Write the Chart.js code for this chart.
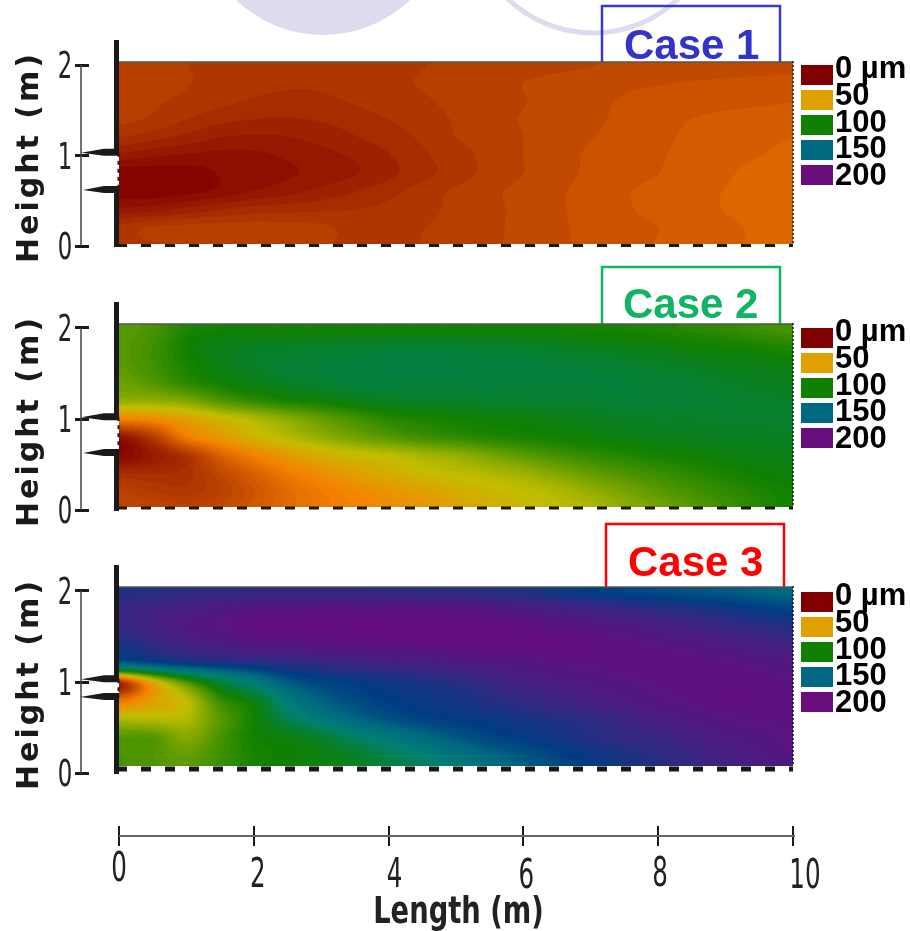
<!DOCTYPE html>
<html>
<head>
<meta charset="utf-8">
<script src="https://cdn.jsdelivr.net/npm/chart.js@4"></script>
<style>
  html, body { margin: 0; background: #fff; }
  #page { position: relative; width: 910px; height: 931px; overflow: hidden; }
  canvas { position: absolute; left: 0; }
</style>
</head>
<body>
<div id="page"></div>
<script>
// grid nodes the thickness was read at
const lengthNodes = [0, 0.5, 1, 1.5, 2, 2.5, 3, 3.5, 4, 4.5, 5, 5.5, 6, 6.5, 7, 7.5, 8, 8.5, 9, 9.5, 10];
const heightNodes = [2, 1.8, 1.6, 1.4, 1.2, 1, 0.8, 0.6, 0.4, 0.2, 0];

const lengthTicks = [0, 2, 4, 6, 8, 10];
const heightTicks = [0, 1, 2];

const legendLabels = ['0 µm', '50', '100', '150', '200'];
const legendColors = ['#800000', '#e0a000', '#108000', '#006880', '#6a0d7d'];

// thickness in um, rows from the top of the duct down
const case1Rows = [
  [20.5,19.5,18.1,17,16.5,16.3,16.3,16.8,17.3,17.9,18.6,19.2,19.8,20.4,20.9,21.5,22,22.5,22.9,23.2,23.4],
  [20,19.5,18.2,17,16,15.5,15.5,16.5,17.4,18.2,19,20,21,21.8,22.6,23.3,23.8,24.2,24.5,24.7,24.8],
  [19.5,18.5,17.2,15.8,14.6,14,14.3,15.3,16.7,17.6,18.8,20.2,20.9,22,23.2,24.3,25.2,25.7,26.1,26.5,26.9],
  [18.8,17.4,15,13,12,11.8,12.3,13.5,15,16.7,18.3,20,21.2,22.5,23.5,24.6,26,27,27.7,28.1,28.5],
  [15,13,11,9,8.5,8.8,10,11.8,13.5,15.5,18,19.4,21,22.9,23.9,25,26.4,27.5,28.4,29.2,29.9],
  [8,6.5,5.5,5,5.3,6.5,8,9.5,11.8,14.5,16.7,19,21,23,24.4,25.6,26.7,27.9,29,29.9,30.8],
  [1,1,1.5,3.2,4.5,5.5,7.2,8.8,11.2,14,16.5,19,21,23,24.5,25.8,27,28.3,29.6,31,31.6],
  [1,1,2.2,4,6.3,8,10,12,14,16.5,18.5,20.3,22,23.6,25,26.7,27.9,29.1,30.1,31,31.6],
  [7,8,10,12,13.5,14,14.5,15,15.8,17,18.8,20.2,21.9,23.6,25,26.6,27.8,29,30.1,31,31.6],
  [16,18.5,19,19.5,19.5,19.2,18.6,17,16.5,17.9,19.1,20.4,21.8,23.5,24.8,26,27,28.2,29.4,30.5,31.5],
  [16.5,17.5,18.8,19.2,19.4,19.2,18.4,17,17,18.1,19.5,20.5,21.9,23.4,24.7,25.9,27.2,28.3,29.4,30.5,31.3]
];
const case2Rows = [
  [84,88,97,100,100,100,100,100,100,100,100,100,100,100,99,98,97,95,93,90,88],
  [85,90,100,106,108,109,110,111,112,112,112,111,110,108,106,105,103,101,100,98,96],
  [84,90,98,105,110,113,114,115,116,116,116,115,115,114,113,112,110,108,106,105,103],
  [80,86,94,100,105,109,112,114,115,115,115,115,114,114,114,114,113,112,110,108,107],
  [72,72,76,86,93,98,101,105,108,110,110,111,111,112,112,113,113,113,112,111,110],
  [40,43,50,58,66,74,82,89,95,98,100,102,103,105,107,109,110,110,111,111,111],
  [6,18,38,47,57,65,72,79,85,90,93,96,98,100,102,104,106,107,108,108,109],
  [2,8,16,30,40,48,55,60,63,68,72,78,84,89,93,96,99,101,103,105,106],
  [14,14,15,22,30,38,44,50,55,60,63,66,70,76,82,87,91,95,98,101,103],
  [20,18,17,20,26,33,38,42,46,50,55,59,62,66,72,78,84,89,93,97,100],
  [22,22,21,23,27,33,37,40,43,47,50,55,60,63,66,72,78,84,90,95,99]
];
const case3Rows = [
  [172,174,176,177,178,178,178,178,177,176,176,174,172,168,165,162,160,157,155,151,148],
  [180,183,186,189,192,193,194,194,194,194,193,191,188,185,182,179,176,173,170,166,163],
  [178,184,190,193,196,197,197,198,198,198,198,197,196,194,192,190,187,184,180,177,174],
  [170,176,182,186,190,191,192,193,194,195,196,197,197,197,196,195,193,191,188,185,183],
  [150,158,165,169,172,175,178,181,183,185,187,189,191,193,194,195,196,195,194,192,190],
  [15,55,88,115,135,155,162,166,169,172,175,180,185,188,190,192,194,195,195,195,194],
  [35,50,63,92,105,135,152,160,165,168,170,174,178,182,186,189,192,194,196,196,195],
  [65,64,66,85,100,120,138,150,158,163,166,168,171,174,177,182,187,190,193,194,195],
  [85,85,75,88,100,104,112,126,138,148,156,162,166,170,174,178,181,185,189,191,193],
  [88,86,82,90,98,101,104,110,120,131,142,150,157,163,168,172,176,181,186,189,192],
  [88,87,85,92,100,103,105,108,113,120,130,140,150,158,165,169,173,177,181,184,187]
];

// colour ramp of the contour plots: thickness -> rgb
const rampStops = [0, 40, 50, 62, 100, 115, 130, 150, 165, 178, 200];
const rampColors = [[128,0,0],[245,130,0],[224,160,0],[195,190,0],[16,128,0],[5,128,60],[0,128,115],[0,104,128],[0,60,130],[50,40,130],[105,10,125]];

// hand placement of the axis digits, they sit unevenly in the reference
const lengthLabelNudgeX = [0, 4, 6, 3, 2, 12];
const lengthLabelNudgeY = [-6, 0, 0, 1, -1, 1];

const rampColor = (v) => {
  let i = 0;
  while (i < rampStops.length - 2 && v > rampStops[i + 1]) i++;
  const t = Math.min(1, Math.max(0, (v - rampStops[i]) / (rampStops[i + 1] - rampStops[i])));
  return rampColors[i].map((c, k) => c + (rampColors[i + 1][k] - c) * t);
};

const cubicWeights = (t) => [
  (-t * t * t + 2 * t * t - t) / 2,
  (3 * t * t * t - 5 * t * t + 2) / 2,
  (-3 * t * t * t + 4 * t * t + t) / 2,
  (t * t * t - t * t) / 2
];

// smooth shading between the read values, so the bands do not look polygonal
const sampleRows = (rows, length, height) => {
  const nx = lengthNodes.length - 1;
  const ny = heightNodes.length - 1;
  const cx = Math.min(nx, Math.max(0, length / 0.5));
  const cy = Math.min(ny, Math.max(0, (2 - height) / 0.2));
  const x0 = Math.min(nx - 1, Math.floor(cx));
  const y0 = Math.min(ny - 1, Math.floor(cy));
  const wx = cubicWeights(cx - x0);
  const wy = cubicWeights(cy - y0);
  let sum = 0;
  for (let j = 0; j < 4; j++) {
    const row = rows[Math.min(ny, Math.max(0, y0 + j - 1))];
    for (let i = 0; i < 4; i++) {
      sum += wy[j] * wx[i] * row[Math.min(nx, Math.max(0, x0 + i - 1))];
    }
  }
  return sum;
};

// each grid node is drawn as a small shaded tile, banded like the contour levels
const cellTile = (ctx, panel) => {
  const raw = ctx.raw;
  const {x, y} = ctx.chart.scales;
  const pxLength = x.getPixelForValue(1) - x.getPixelForValue(0);
  const pxHeight = y.getPixelForValue(0) - y.getPixelForValue(1);
  // the first reset pass runs before the scales have a size
  if (!raw || !(pxLength > 0) || !(pxHeight > 0)) return 'rect';
  const w = Math.ceil(pxLength * 0.5) + 2;
  const h = Math.ceil(pxHeight * 0.2) + 2;
  const tile = document.createElement('canvas');
  tile.width = w;
  tile.height = h;
  const g = tile.getContext('2d');
  const image = g.createImageData(w, h);
  for (let py = 0; py < h; py++) {
    for (let px = 0; px < w; px++) {
      const v = sampleRows(panel.rows, raw.x + (px + 0.5 - w / 2) / pxLength, raw.y - (py + 0.5 - h / 2) / pxHeight);
      const level = (Math.floor(v / panel.band) + 0.5) * panel.band;
      const [r, gr, b] = rampColor(level);
      const at = (py * w + px) * 4;
      image.data[at] = r;
      image.data[at + 1] = gr;
      image.data[at + 2] = b;
      image.data[at + 3] = 255;
    }
  }
  g.putImageData(image, 0, 0);
  return tile;
};

const panels = [
  {rows: case1Rows, band: 3, top: 0, height: 266, plotTop: 62, plotBottom: 244, zeroAt: 246, twoAt: 65,
   label: 'Case 1', color: '#3333cc', boxColor: '#3a3acb', boxLeft: 602, boxTop: 6, textX: 624, textY: 59, legendTop: 65,
   wallTop: 40, wingA: 1.03, wingB: 0.62, wingTipA: 81, wingTipB: 83, dashY: 245.5, dashW: 3},
  {rows: case2Rows, band: 2, top: 262, height: 268, plotTop: 324, plotBottom: 507, zeroAt: 510, twoAt: 328,
   label: 'Case 2', color: '#0fb562', boxColor: '#12b565', boxLeft: 602, boxTop: 267, textX: 623, textY: 318, legendTop: 328,
   wallTop: 302, wingA: 1.02, wingB: 0.626, wingTipA: 81, wingTipB: 83, dashY: 508, dashW: 3},
  {rows: case3Rows, band: 2, top: 520, height: 280, plotTop: 587, plotBottom: 766, zeroAt: 773, twoAt: 591,
   label: 'Case 3', color: '#ff0000', boxColor: '#ff0000', boxLeft: 606, boxTop: 524, textX: 628, textY: 576, legendTop: 592,
   wallTop: 565, wingA: 1.03, wingB: 0.835, wingTipA: 81, wingTipB: 80, dashY: 769, dashW: 5}
];

const plotLeft = 119;
const plotRight = 793;
const lengthMin = -(plotLeft - 89) / ((plotRight - plotLeft) / 10);

const stroke = (c, color, width, x1, y1, x2, y2, dash) => {
  c.save();
  c.strokeStyle = color;
  c.lineWidth = width;
  c.setLineDash(dash || []);
  c.beginPath();
  c.moveTo(x1, y1);
  c.lineTo(x2, y2);
  c.stroke();
  c.restore();
};

const wing = (c, tipX, tipY) => {
  c.fillStyle = '#1a1a1a';
  c.beginPath();
  c.moveTo(tipX, tipY);
  c.lineTo(104, tipY - 4);
  c.lineTo(119, tipY - 4);
  c.lineTo(119, tipY + 3);
  c.lineTo(104, tipY + 3);
  c.closePath();
  c.fill();
};

// the reference axis type is very narrow, so squeeze DejaVu sideways
const narrowText = (c, text, x, baseline, font, squeeze) => {
  c.save();
  c.translate(x, baseline);
  c.scale(squeeze, 1);
  c.font = font;
  c.fillStyle = '#222';
  c.textAlign = 'center';
  c.textBaseline = 'alphabetic';
  c.fillText(text, 0, 0);
  c.restore();
};

const panelDecor = {
  id: 'panelDecor',
  beforeDraw(chart, args, panel) {
    if (panel.label !== 'Case 1') return;
    const c = chart.ctx;
    c.save();
    c.fillStyle = '#dcdcee';
    c.beginPath();
    c.arc(323, -90.5, 125.5, 0, Math.PI * 2);
    c.fill();
    c.strokeStyle = '#dcdcee';
    c.lineWidth = 5;
    c.beginPath();
    c.arc(593, -90, 123, 0, Math.PI * 2);
    c.stroke();
    c.restore();
  },
  beforeDatasetsDraw(chart, args, panel) {
    const c = chart.ctx;
    const off = panel.top;
    const y = chart.scales.y;
    c.save();
    // case tag, its foot is hidden behind the plot
    c.strokeStyle = panel.boxColor;
    c.lineWidth = 2.5;
    c.beginPath();
    c.moveTo(panel.boxLeft, panel.plotTop - off);
    c.lineTo(panel.boxLeft, panel.boxTop - off);
    c.lineTo(panel.boxLeft + 178, panel.boxTop - off);
    c.lineTo(panel.boxLeft + 178, panel.plotTop - off);
    c.stroke();
    c.fillStyle = panel.color;
    c.font = 'bold 42px "Liberation Sans"';
    c.textAlign = 'left';
    c.textBaseline = 'alphabetic';
    c.fillText(panel.label, panel.textX, panel.textY - off);
    // colour key
    c.font = 'bold 31px "Liberation Sans"';
    legendLabels.forEach((label, i) => {
      c.fillStyle = legendColors[i];
      c.fillRect(801, panel.legendTop + i * 25 - off, 32, 20);
      c.fillStyle = '#000';
      c.fillText(label, 835, panel.legendTop + 13 + i * 26.75 - off);
    });
    // height axis digits and title
    y.ticks.forEach((tick) => {
      narrowText(c, String(tick.value), 65, y.getPixelForValue(tick.value) + 13, '38px "DejaVu Sans"', 0.6);
    });
    c.translate(38, panel.zeroAt - 89 - off);
    c.rotate(-Math.PI / 2);
    c.letterSpacing = '3px';
    c.font = 'bold 30px "DejaVu Sans"';
    c.fillStyle = '#1a1a1a';
    c.textAlign = 'center';
    c.fillText('Height (m)', 0, 0);
    c.restore();
  },
  afterDatasetsDraw(chart, args, panel) {
    const c = chart.ctx;
    const y = chart.scales.y;
    const off = panel.top;
    const wingA = y.getPixelForValue(panel.wingA);
    const wingB = y.getPixelForValue(panel.wingB);
    c.save();
    stroke(c, '#444', 1.5, 81, y.getPixelForValue(2), 81, y.getPixelForValue(0));
    stroke(c, '#555', 1.5, plotLeft, panel.plotTop - off, plotRight, panel.plotTop - off);
    stroke(c, '#1a1a1a', 5, 116.5, panel.wallTop - off, 116.5, wingA);
    stroke(c, '#1a1a1a', 5, 116.5, wingB, 116.5, y.getPixelForValue(0) + 1);
    stroke(c, '#1a1a1a', 2, 118.5, wingA, 118.5, wingB, [4, 4]);
    stroke(c, '#1a1a1a', 1.5, plotRight, panel.plotTop - off - 1, plotRight, panel.plotBottom - off, [2, 2]);
    stroke(c, '#1a1a1a', panel.dashW, 117, panel.dashY - off, plotRight, panel.dashY - off, [10, 14]);
    wing(c, panel.wingTipA, wingA);
    wing(c, panel.wingTipB, wingB);
    c.restore();
  }
};

const addCanvas = (top, height) => {
  const canvas = document.createElement('canvas');
  canvas.width = 910;
  canvas.height = height;
  canvas.style.top = top + 'px';
  document.getElementById('page').appendChild(canvas);
  return canvas;
};

const createPanel = (panel) => {
  const canvas = addCanvas(panel.top, panel.height);
  const points = [];
  heightNodes.forEach((h, j) => {
    lengthNodes.forEach((l, i) => {
      points.push({x: l, y: h, v: panel.rows[j][i]});
    });
  });
  new Chart(canvas, {
    type: 'scatter',
    data: {
      datasets: [{
        data: points,
        pointStyle: (ctx) => cellTile(ctx, panel),
        pointRadius: 5,
        borderWidth: 0,
        clip: {left: -(plotLeft - 89), top: 0, right: 0, bottom: panel.plotBottom - panel.zeroAt}
      }]
    },
    options: {
      responsive: false,
      animation: false,
      events: [],
      layout: {
        padding: {
          top: panel.plotTop - panel.top,
          bottom: panel.top + panel.height - panel.zeroAt,
          right: 910 - plotRight,
          left: 0
        }
      },
      scales: {
        x: {type: 'linear', display: false, min: lengthMin, max: 10},
        y: {
          type: 'linear',
          min: 0,
          max: 2 + (panel.twoAt - panel.plotTop) / ((panel.zeroAt - panel.twoAt) / 2),
          afterFit: (scale) => { scale.width = 89; },
          afterBuildTicks: (scale) => { scale.ticks = heightTicks.map((value) => ({value})); },
          border: {display: false},
          grid: {drawOnChartArea: false, tickLength: 14, tickWidth: 3, tickColor: '#1a1a1a'},
          ticks: {display: false}
        }
      },
      plugins: {
        legend: {display: false},
        tooltip: {enabled: false},
        panelDecor: panel
      }
    },
    plugins: [panelDecor]
  });
};

const lengthAxisDecor = {
  id: 'lengthAxisDecor',
  afterDraw(chart) {
    const c = chart.ctx;
    const x = chart.scales.x;
    const {left, right, top, bottom} = chart.chartArea;
    stroke(c, '#666', 2, left, (top + bottom) / 2, right + 2, (top + bottom) / 2);
    lengthTicks.forEach((value, i) => {
      narrowText(c, String(value), x.getPixelForValue(value) + lengthLabelNudgeX[i], 87 + lengthLabelNudgeY[i], '41px "DejaVu Sans"', 0.6);
    });
    narrowText(c, 'Length (m)', 458.5, 123, 'bold 38px "DejaVu Sans"', 0.72);
  }
};

const createLengthAxis = () => {
  const canvas = addCanvas(800, 131);
  new Chart(canvas, {
    type: 'scatter',
    data: {datasets: [{data: []}]},
    options: {
      responsive: false,
      animation: false,
      events: [],
      layout: {padding: {top: 26, bottom: 0, left: plotLeft, right: 910 - plotRight}},
      scales: {
        x: {
          type: 'linear',
          min: 0,
          max: 10,
          afterFit: (scale) => { scale.height = 85; },
          afterBuildTicks: (scale) => { scale.ticks = lengthTicks.map((value) => ({value})); },
          border: {display: false},
          grid: {drawTicks: false, lineWidth: 2, color: '#1a1a1a'},
          ticks: {display: false}
        },
        y: {type: 'linear', display: false, min: 0, max: 1}
      },
      plugins: {
        legend: {display: false},
        tooltip: {enabled: false}
      }
    },
    plugins: [lengthAxisDecor]
  });
};

panels.forEach(createPanel);
createLengthAxis();
</script>
</body>
</html>
